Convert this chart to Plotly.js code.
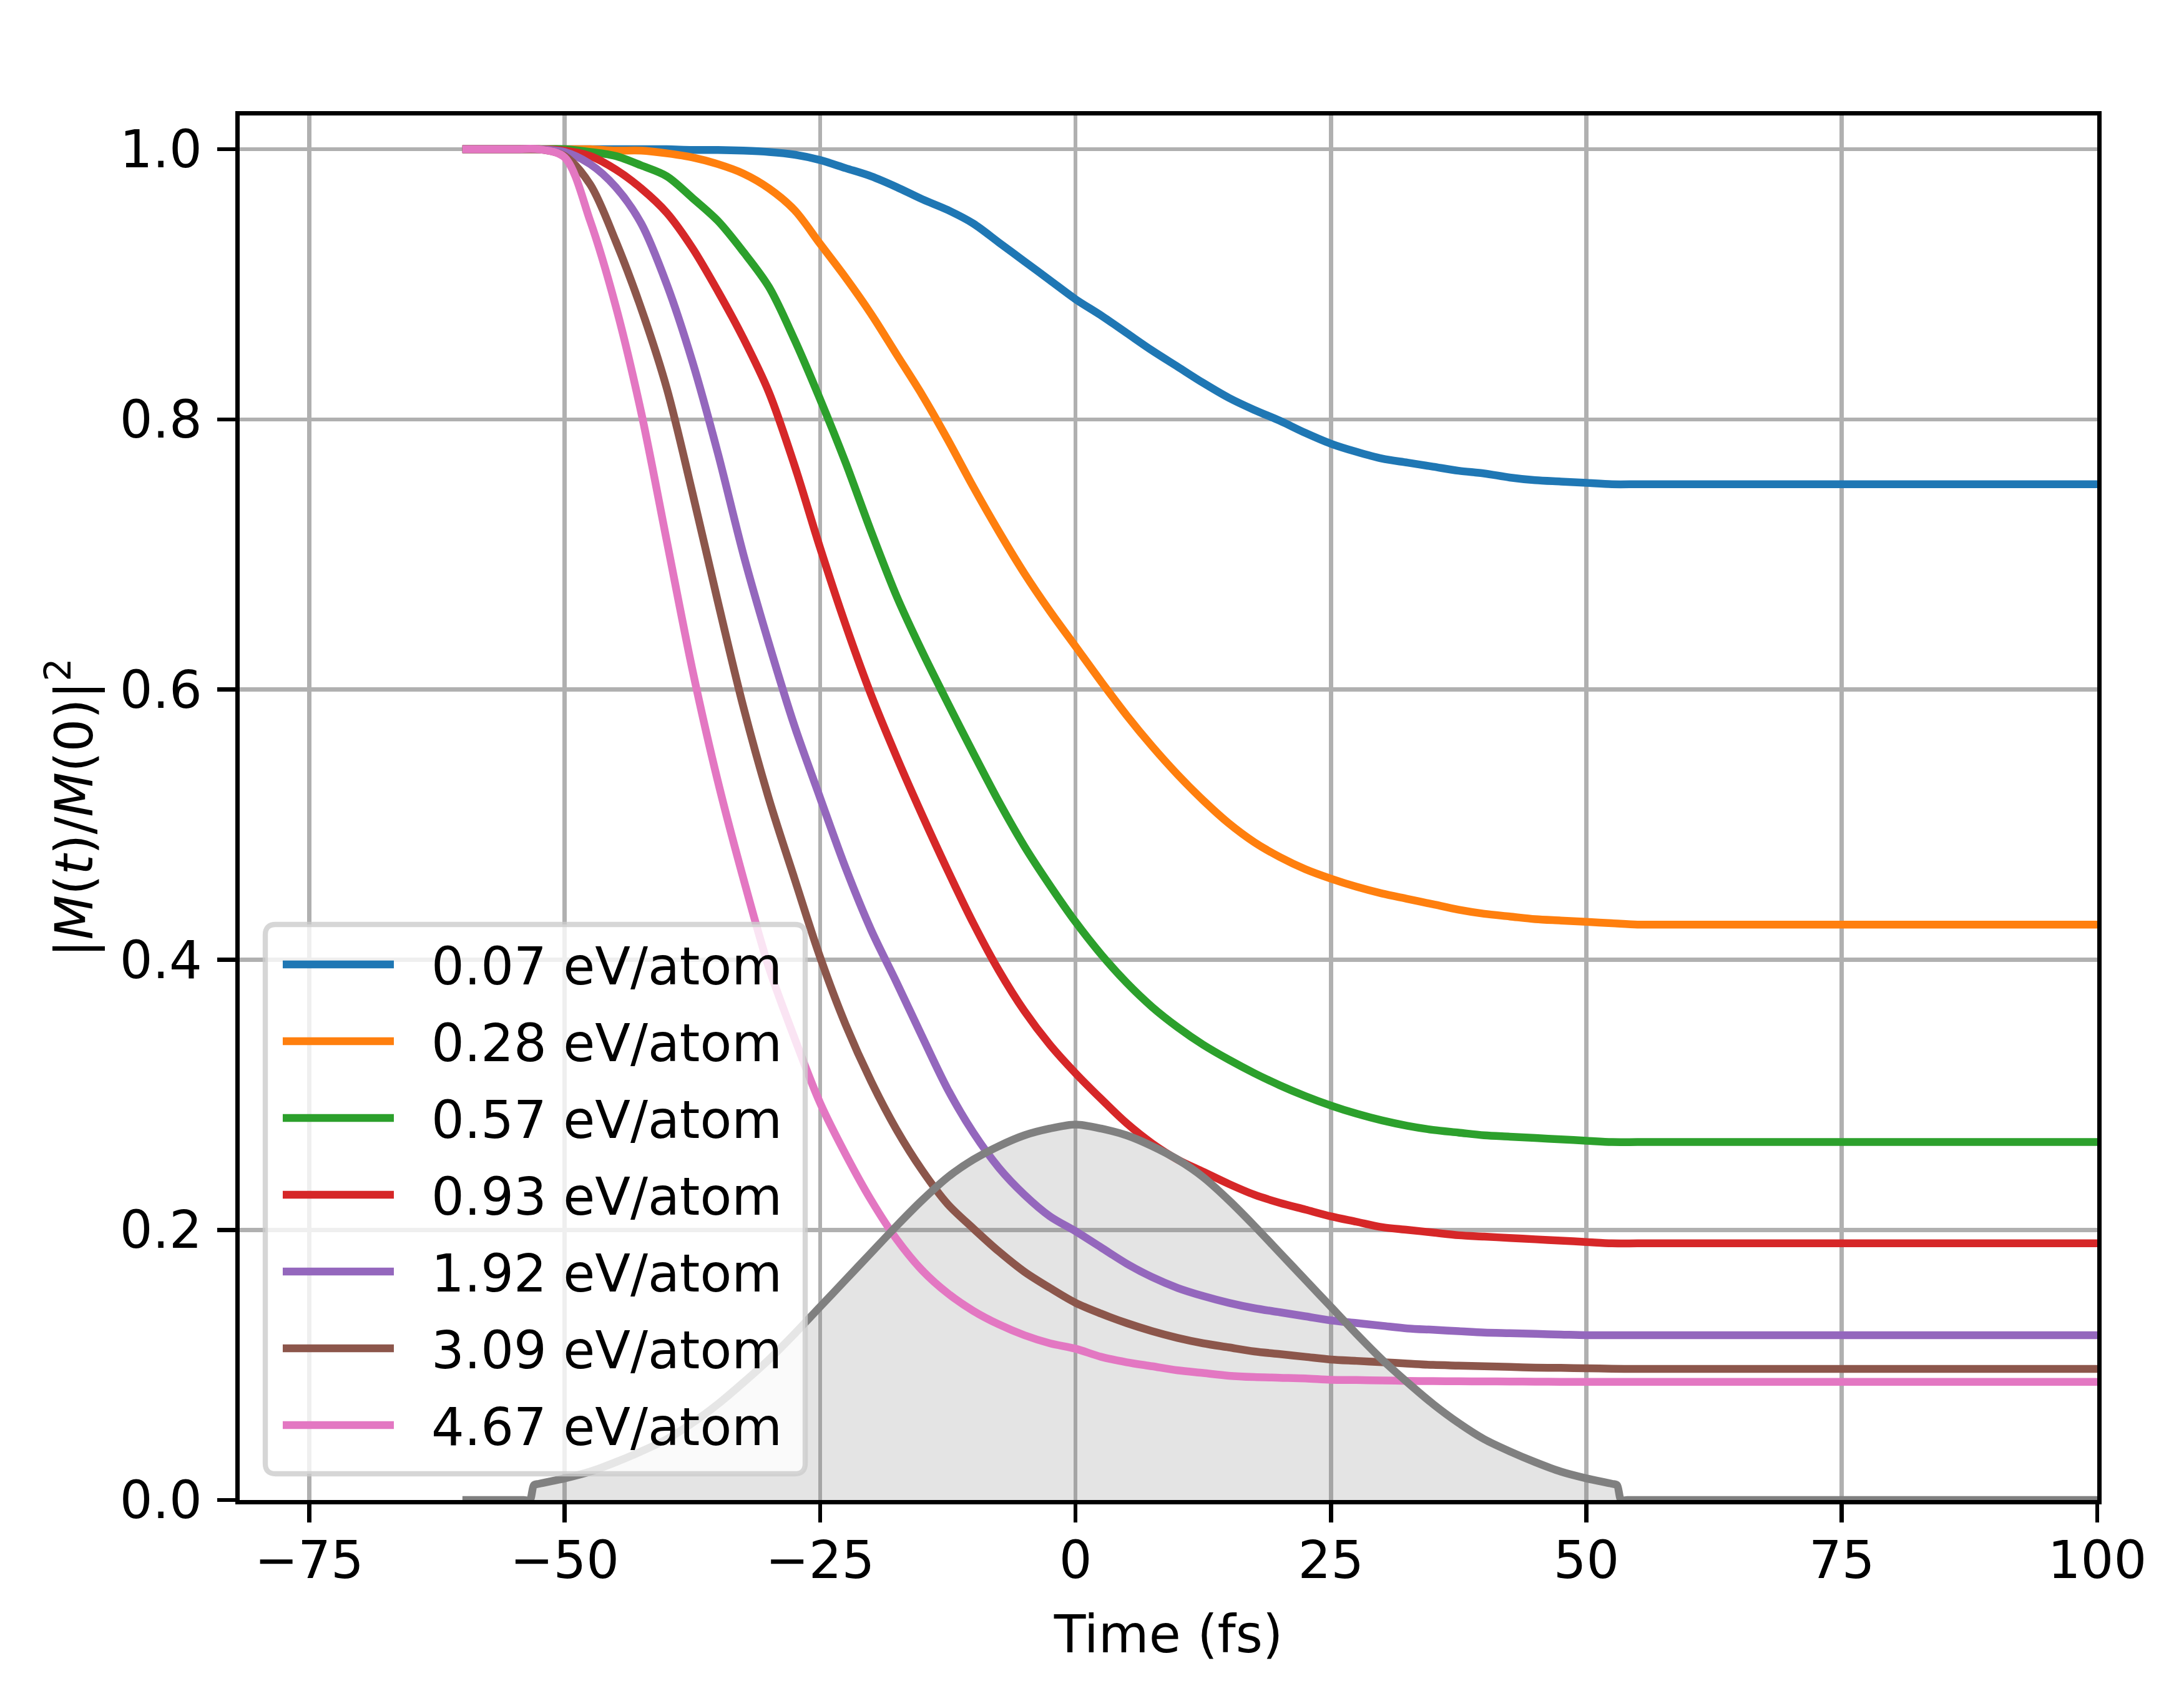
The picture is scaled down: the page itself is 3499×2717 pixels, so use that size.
<!DOCTYPE html>
<html>
<head>
<meta charset="utf-8">
<script src="https://cdn.plot.ly/plotly-3.0.1.min.js"></script>
<style>
  html, body { margin: 0; padding: 0; background: #fff; }
  #chart { width: 3499px; height: 2717px; }
</style>
</head>
<body>
<div id="chart"></div>
<script>
// time axis (fs), shared by all magnetization curves
const time = [-60, -57.5, -55, -52.5, -50, -47.5, -45, -42.5, -40, -37.5, -35, -32.5, -30, -27.5, -25, -22.5,
  -20, -17.5, -15, -12.5, -10, -7.5, -5, -2.5, 0, 2.5, 5, 7.5, 10, 12.5, 15, 17.5, 20, 22.5, 25, 27.5,
  30, 32.5, 35, 37.5, 40, 42.5, 45, 47.5, 50, 52.5, 55, 57.5, 60, 70, 80, 90, 100];

const labels = ['0.07 eV/atom', '0.28 eV/atom', '0.57 eV/atom', '0.93 eV/atom',
  '1.92 eV/atom', '3.09 eV/atom', '4.67 eV/atom'];

const m007 = [1, 1, 1, 1, 1, 1, 1, 1, 1.0, 0.9995, 0.9995, 0.999, 0.998, 0.996, 0.992, 0.986,
  0.980, 0.972, 0.963, 0.955, 0.945, 0.931, 0.917, 0.903, 0.889, 0.877, 0.864, 0.851, 0.839, 0.827, 0.816, 0.807, 0.799, 0.79, 0.782, 0.776,
  0.771, 0.768, 0.765, 0.762, 0.760, 0.757, 0.755, 0.754, 0.753, 0.752, 0.752, 0.752, 0.752, 0.752, 0.752, 0.752, 0.752];

const m028 = [1, 1, 1, 1, 1, 1, 0.999, 0.999, 0.997, 0.994, 0.989, 0.982, 0.971, 0.955, 0.93, 0.905,
  0.878, 0.848, 0.818, 0.785, 0.750, 0.717, 0.686, 0.658, 0.632, 0.606, 0.581, 0.558, 0.537, 0.518, 0.501, 0.487, 0.476, 0.467, 0.460, 0.454,
  0.449, 0.445, 0.441, 0.437, 0.434, 0.432, 0.43, 0.429, 0.428, 0.427, 0.426, 0.426, 0.426, 0.426, 0.426, 0.426, 0.426];

const m057 = [1, 1, 1, 1, 1, 0.998, 0.995, 0.988, 0.98, 0.964, 0.947, 0.924, 0.898, 0.859, 0.815, 0.768,
  0.717, 0.669, 0.628, 0.590, 0.553, 0.517, 0.484, 0.455, 0.428, 0.404, 0.383, 0.365, 0.35, 0.337, 0.326, 0.316, 0.307, 0.299, 0.292, 0.286,
  0.281, 0.277, 0.274, 0.272, 0.27, 0.269, 0.268, 0.267, 0.266, 0.265, 0.265, 0.265, 0.265, 0.265, 0.265, 0.265, 0.265];

const m093 = [1, 1, 1, 1, 0.999, 0.995, 0.985, 0.971, 0.953, 0.927, 0.895, 0.86, 0.82, 0.766, 0.705, 0.648,
  0.596, 0.55, 0.507, 0.466, 0.427, 0.392, 0.362, 0.337, 0.316, 0.297, 0.279, 0.264, 0.252, 0.243, 0.234, 0.226, 0.22, 0.215, 0.21, 0.206,
  0.202, 0.2, 0.198, 0.196, 0.195, 0.194, 0.193, 0.192, 0.191, 0.19, 0.19, 0.19, 0.19, 0.19, 0.19, 0.19, 0.19];

const m192 = [1, 1, 1, 1, 0.998, 0.989, 0.972, 0.945, 0.90, 0.843, 0.775, 0.70, 0.634, 0.573, 0.52, 0.468,
  0.422, 0.383, 0.343, 0.304, 0.272, 0.246, 0.226, 0.21, 0.199, 0.187, 0.175, 0.165, 0.157, 0.151, 0.146, 0.142, 0.139, 0.136, 0.133, 0.131,
  0.129, 0.127, 0.126, 0.125, 0.124, 0.1235, 0.123, 0.1225, 0.122, 0.122, 0.122, 0.122, 0.122, 0.122, 0.122, 0.122, 0.122];

const m309 = [1, 1, 1, 1, 0.995, 0.974, 0.932, 0.882, 0.823, 0.746, 0.665, 0.587, 0.519, 0.46, 0.402, 0.352,
  0.31, 0.274, 0.244, 0.219, 0.201, 0.184, 0.169, 0.157, 0.146, 0.138, 0.131, 0.125, 0.12, 0.116, 0.113, 0.110, 0.108, 0.106, 0.104, 0.103,
  0.102, 0.101, 0.1, 0.0995, 0.099, 0.0985, 0.098, 0.0978, 0.0975, 0.0972, 0.097, 0.097, 0.097, 0.097, 0.097, 0.097, 0.097];

const m467 = [1, 1, 1, 1, 0.994, 0.947, 0.884, 0.805, 0.71, 0.615, 0.532, 0.46, 0.394, 0.342, 0.294, 0.256,
  0.222, 0.193, 0.170, 0.153, 0.140, 0.130, 0.122, 0.116, 0.112, 0.106, 0.102, 0.099, 0.096, 0.094, 0.092, 0.091, 0.0905, 0.09, 0.089, 0.0888,
  0.0885, 0.0882, 0.088, 0.0879, 0.0878, 0.0877, 0.0876, 0.0875, 0.0875, 0.0875, 0.0875, 0.0875, 0.0875, 0.0875, 0.0875, 0.0875, 0.0875];

// laser pulse envelope (arbitrary units), cut off at about +-53 fs
const pulseTime = [-60, -56, -54, -53.4, -53, -52.5, -50, -47.5, -45, -42.5, -40, -37.5, -35, -32.5, -30, -27.5, -25, -22.5,
  -20, -17.5, -15, -12.5, -10, -7.5, -5, -2.5, 0, 2.5, 5, 7.5, 10, 12.5, 15, 17.5, 20, 22.5, 25, 27.5,
  30, 32.5, 35, 37.5, 40, 42.5, 45, 47.5, 50, 52.5, 53, 53.4, 54, 56, 60, 80, 100];
const pulse = [0, 0, 0, 0, 0.011, 0.012, 0.016, 0.021, 0.028, 0.036, 0.045, 0.057, 0.071, 0.087, 0.104, 0.123, 0.143, 0.163,
  0.183, 0.203, 0.222, 0.239, 0.252, 0.262, 0.270, 0.275, 0.278, 0.275, 0.270, 0.262, 0.252, 0.239, 0.222, 0.203, 0.183, 0.163, 0.143, 0.123,
  0.104, 0.087, 0.071, 0.057, 0.045, 0.036, 0.028, 0.021, 0.016, 0.012, 0.011, 0, 0, 0, 0, 0, 0];

const series = [m007, m028, m057, m093, m192, m309, m467];
const colors = ['#1f77b4', '#ff7f0e', '#2ca02c', '#d62728', '#9467bd', '#8c564b', '#e377c2'];

const FONT = 'DejaVu Sans';
const FS = 83;
const LW = 12.5;
const THIN = 6.6;

// plot area in pixels
const L = 384, R = 3360, T = 185, B = 2403;
const px = v => (v - L) / (R - L);
const py = v => (B - v) / (B - T);

const traces = [];

// shaded area under the pulse (drawn below the curves)
traces.push({
  x: pulseTime, y: pulse, type: 'scatter', mode: 'lines',
  line: {width: 0, color: 'rgba(128,128,128,0)', shape: 'spline', smoothing: 0.8},
  fill: 'tozeroy', fillcolor: 'rgba(128,128,128,0.21)',
  showlegend: false, hoverinfo: 'skip'
});

series.forEach((vals, i) => {
  traces.push({
    x: time, y: vals, type: 'scatter', mode: 'lines', name: labels[i],
    line: {color: colors[i], width: LW, shape: 'spline', smoothing: 0.9},
    showlegend: false
  });
});

// pulse outline on top
traces.push({
  x: pulseTime, y: pulse, type: 'scatter', mode: 'lines',
  line: {color: '#808080', width: LW, shape: 'spline', smoothing: 0.8},
  showlegend: false, hoverinfo: 'skip'
});

// legend drawn by hand so the handle length, gaps and rounded frame match
const box = {x0: px(425), x1: px(1290), y0: py(2361), y1: py(1481)};
const rx = 16.6 / (R - L), ry = 16.6 / (B - T);
const framePath = `M${box.x0 + rx},${box.y0} L${box.x1 - rx},${box.y0} Q${box.x1},${box.y0} ${box.x1},${box.y0 + ry}` +
  ` L${box.x1},${box.y1 - ry} Q${box.x1},${box.y1} ${box.x1 - rx},${box.y1}` +
  ` L${box.x0 + rx},${box.y1} Q${box.x0},${box.y1} ${box.x0},${box.y1 - ry}` +
  ` L${box.x0},${box.y0 + ry} Q${box.x0},${box.y0} ${box.x0 + rx},${box.y0} Z`;

const shapes = [{
  type: 'path', xref: 'paper', yref: 'paper', layer: 'above', path: framePath,
  fillcolor: 'rgba(255,255,255,0.8)', line: {color: 'rgba(204,204,204,0.8)', width: 8.3}
}];
const annotations = [];
labels.forEach((lab, i) => {
  const rowY = 1545 + 123 * i;
  shapes.push({
    type: 'line', xref: 'paper', yref: 'paper', layer: 'above',
    x0: px(453), x1: px(631), y0: py(rowY), y1: py(rowY),
    line: {color: colors[i], width: LW}
  });
  annotations.push({
    xref: 'paper', yref: 'paper', x: px(689), y: py(rowY + 3),
    xanchor: 'left', yanchor: 'middle', showarrow: false, text: lab,
    font: {family: FONT, size: FS, color: '#000'}
  });
});

const axisCommon = {
  showline: true, mirror: true, linecolor: '#000', linewidth: THIN,
  showgrid: true, gridcolor: '#b0b0b0', gridwidth: THIN,
  zeroline: false,
  ticks: 'outside', ticklen: 29, tickwidth: THIN, tickcolor: '#000',
  tickfont: {family: FONT, size: FS, color: '#000'}
};

const layout = {
  width: 3499, height: 2717,
  paper_bgcolor: '#fff', plot_bgcolor: '#fff',
  margin: {l: L, r: 3499 - R, t: T, b: 2717 - B},
  font: {family: FONT, size: FS, color: '#000'},
  xaxis: Object.assign({}, axisCommon, {
    range: [-81.8, 100], tickmode: 'array',
    tickvals: [-75, -50, -25, 0, 25, 50, 75, 100],
    ticklabelstandoff: -10,
    title: {text: 'Time (fs)', font: {family: FONT, size: FS, color: '#000'}, standoff: 44}
  }),
  yaxis: Object.assign({}, axisCommon, {
    range: [0, 1.025], tickmode: 'array',
    tickvals: [0, 0.2, 0.4, 0.6, 0.8, 1.0],
    ticktext: ['0.0', '0.2', '0.4', '0.6', '0.8', '1.0'],
    ticklabelstandoff: 8,
    title: {text: '|<i>M</i>(<i>t</i>)/<i>M</i>(0)|<sup>2</sup>', font: {family: FONT, size: FS, color: '#000'}, standoff: 18}
  }),
  shapes: shapes,
  annotations: annotations,
  showlegend: false
};

Plotly.newPlot('chart', traces, layout, {staticPlot: true});
</script>
</body>
</html>
